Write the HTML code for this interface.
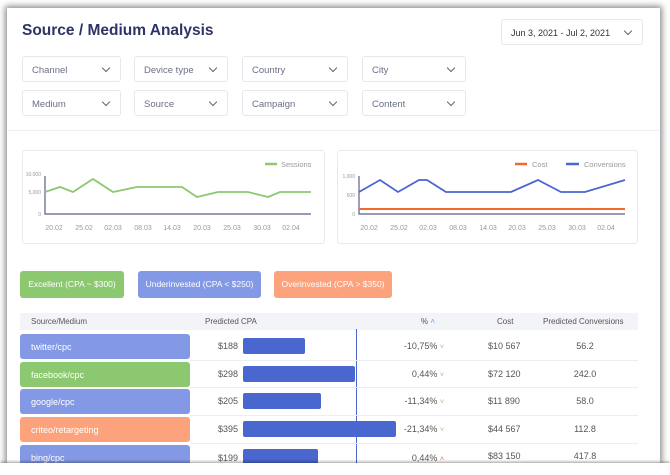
<!DOCTYPE html>
<html><head><style>
*{margin:0;padding:0;box-sizing:border-box}
body{width:670px;height:475px;background:#fff;font-family:"Liberation Sans",sans-serif;position:relative;overflow:hidden}
.card{position:absolute;left:7px;top:8px;width:653px;height:455px;background:#fff;box-shadow:0 0 6px 2px rgba(0,0,0,.45);overflow:hidden}
.a{position:absolute}
.sel{position:absolute;height:26px;border:1px solid #e6e8ef;border-radius:3px;font-size:9.5px;color:#6a6f85;padding:8px 0 0 9px;background:#fff}
.sel:after{content:"";position:absolute;right:11px;top:8px;width:5px;height:5px;border-right:1.2px solid #666;border-bottom:1.2px solid #666;transform:rotate(45deg)}
.box{position:absolute;border:1px solid #e8eaf0;border-radius:3px;background:#fff}
.btn{position:absolute;top:271px;height:27px;border-radius:3px;color:#fff;font-size:8.5px;text-align:center;line-height:27px}
.pill{position:absolute;left:20px;width:170px;height:25px;border-radius:3px;color:#fff;font-size:9px;padding:8px 0 0 11px}
.t{position:absolute;font-size:9px;color:#555}
.bar{position:absolute;left:243px;height:16px;background:#4a66cf;border-radius:2px}
.sep{position:absolute;left:190px;width:448px;height:1px;background:#eceef3}
</style></head><body>
<div class="card"></div>
<div class="a" style="left:22px;top:22px;font-size:15.5px;font-weight:bold;color:#2e3466">Source / Medium Analysis</div>
<div class="sel" style="left:501px;top:19px;width:142px;height:26px;color:#333;font-size:9px">Jun 3, 2021 - Jul 2, 2021</div>
<div class="sel" style="left:22px;top:56px;width:99px">Channel</div>
<div class="sel" style="left:134px;top:56px;width:94px">Device type</div>
<div class="sel" style="left:242px;top:56px;width:106px">Country</div>
<div class="sel" style="left:362px;top:56px;width:104px">City</div>
<div class="sel" style="left:22px;top:90px;width:99px">Medium</div>
<div class="sel" style="left:134px;top:90px;width:94px">Source</div>
<div class="sel" style="left:242px;top:90px;width:106px">Campaign</div>
<div class="sel" style="left:362px;top:90px;width:104px">Content</div>
<div class="a" style="left:8px;top:130px;width:652px;height:1px;background:#eef0f6"></div>
<div class="box" style="left:22px;top:150px;width:303px;height:94px"></div>
<div class="box" style="left:337px;top:150px;width:301px;height:94px"></div>
<svg class="a" style="left:0;top:0" width="670" height="475" font-family="Liberation Sans" font-size="6.5" fill="#999">
<line x1="265" y1="164" x2="277" y2="164" stroke="#8cc870" stroke-width="2.5"/>
<text x="281" y="167" font-size="7.5">Sessions</text>
<text x="41" y="176" text-anchor="end" font-size="5">10,000</text>
<text x="41" y="194" text-anchor="end" font-size="5">5,000</text>
<text x="41" y="216" text-anchor="end" font-size="5">0</text>
<polyline points="45,176 45,214 311,214" fill="none" stroke="#5a5f8c" stroke-width="1.2"/>
<polyline points="45,192 60,187 73,192 93,179 113,192 137,187 182,187 197,197 218,192 248,192 268,197 280,192 311,192" fill="none" stroke="#8cc870" stroke-width="1.8"/>
<g font-size="7" text-anchor="middle">
<text x="54" y="230">20.02</text><text x="84" y="230">25.02</text><text x="113" y="230">02.03</text><text x="143" y="230">08.03</text><text x="172" y="230">14.03</text><text x="202" y="230">20.03</text><text x="232" y="230">25.03</text><text x="262" y="230">30.03</text><text x="291" y="230">02.04</text>
<text x="369" y="230">20.02</text><text x="399" y="230">25.02</text><text x="428" y="230">02.03</text><text x="458" y="230">08.03</text><text x="488" y="230">14.03</text><text x="517" y="230">20.03</text><text x="547" y="230">25.03</text><text x="577" y="230">30.03</text><text x="606" y="230">02.04</text>
</g>
<line x1="515" y1="164" x2="527" y2="164" stroke="#f06a2f" stroke-width="2.5"/>
<text x="532" y="167" font-size="7.5">Cost</text>
<line x1="566" y1="164" x2="579" y2="164" stroke="#4a66cf" stroke-width="2.5"/>
<text x="584" y="167" font-size="7.5">Conversions</text>
<text x="355" y="178" text-anchor="end" font-size="5">1,000</text>
<text x="355" y="197" text-anchor="end" font-size="5">500</text>
<text x="355" y="216" text-anchor="end" font-size="5">0</text>
<polyline points="359,176 359,214 625,214" fill="none" stroke="#5a5f8c" stroke-width="1.2"/>
<line x1="359" y1="209" x2="625" y2="209" stroke="#f06a2f" stroke-width="2"/>
<polyline points="359,192 380,180 398,192 419,180 427,180 446,192 511,192 538,180 561,192 585,192 625,180" fill="none" stroke="#4a66cf" stroke-width="1.8"/>
</svg>
<div class="btn" style="left:20px;width:104px;background:#8cc870">Excellent (CPA ~ $300)</div>
<div class="btn" style="left:138px;width:123px;background:#8399e6">Underinvested (CPA &lt; $250)</div>
<div class="btn" style="left:274px;width:118px;background:#fca27d">Overinvested (CPA &gt; $350)</div>
<div class="a" style="left:20px;top:313px;width:618px;height:17px;background:#f3f4f8"></div>
<div class="t" style="left:31px;top:317px;font-size:8px">Source/Medium</div>
<div class="t" style="left:205px;top:317px;font-size:8px">Predicted CPA</div>
<div class="t" style="left:421px;top:317px;font-size:8px">% <span style="color:#8399e6">&#708;</span></div>
<div class="t" style="left:497px;top:317px;font-size:8px">Cost</div>
<div class="t" style="left:543px;top:317px;font-size:8px">Predicted Conversions</div>
<div class="a" style="left:356px;top:329px;width:1px;height:140px;background:#4a66cf"></div>
<div class="pill" style="top:334px;background:#8399e6">twitter/cpc</div>
<div class="pill" style="top:362px;background:#8cc870">facebook/cpc</div>
<div class="pill" style="top:389px;background:#8399e6">google/cpc</div>
<div class="pill" style="top:417px;background:#fca27d">criteo/retargeting</div>
<div class="pill" style="top:445px;background:#8399e6">bing/cpc</div>
<div class="sep" style="top:360px"></div><div class="sep" style="top:387px"></div><div class="sep" style="top:415px"></div><div class="sep" style="top:443px"></div>
<div class="bar" style="top:338px;width:62px"></div>
<div class="bar" style="top:366px;width:112px"></div>
<div class="bar" style="top:393px;width:78px"></div>
<div class="bar" style="top:421px;width:153px"></div>
<div class="bar" style="top:449px;width:75px"></div>
<div class="t" style="left:218px;top:341px">$188</div>
<div class="t" style="left:218px;top:369px">$298</div>
<div class="t" style="left:218px;top:396px">$205</div>
<div class="t" style="left:218px;top:424px">$395</div>
<div class="t" style="left:218px;top:453px">$199</div>
<div class="t" style="right:226px;top:341px">-10,75% <span style="color:#8cc870;font-size:7px">&#709;</span></div>
<div class="t" style="right:226px;top:369px">0,44% <span style="color:#8cc870;font-size:7px">&#709;</span></div>
<div class="t" style="right:226px;top:396px">-11,34% <span style="color:#8cc870;font-size:7px">&#709;</span></div>
<div class="t" style="right:226px;top:424px">-21,34% <span style="color:#8cc870;font-size:7px">&#709;</span></div>
<div class="t" style="right:226px;top:453px">0,44% <span style="color:#f06a2f;font-size:7px">&#708;</span></div>
<div class="t" style="left:488px;top:341px">$10 567</div>
<div class="t" style="left:488px;top:369px">$72 120</div>
<div class="t" style="left:488px;top:396px">$11 890</div>
<div class="t" style="left:488px;top:424px">$44 567</div>
<div class="t" style="left:488px;top:451px">$83 150</div>
<div class="t" style="left:565px;width:40px;text-align:center;top:341px">56.2</div>
<div class="t" style="left:565px;width:40px;text-align:center;top:369px">242.0</div>
<div class="t" style="left:565px;width:40px;text-align:center;top:396px">58.0</div>
<div class="t" style="left:565px;width:40px;text-align:center;top:424px">112.8</div>
<div class="t" style="left:565px;width:40px;text-align:center;top:451px">417.8</div>
<div class="a" style="left:0;top:463px;width:670px;height:12px;background:#fff;box-shadow:0 -1px 3px rgba(0,0,0,.4)"></div>
</body></html>
